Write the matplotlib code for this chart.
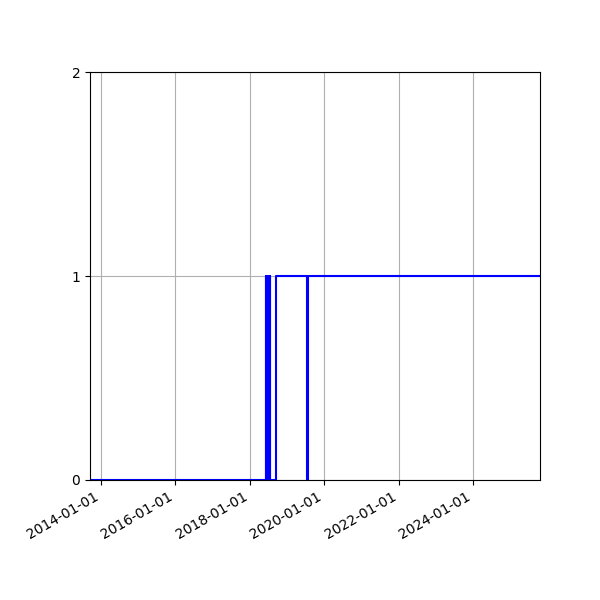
import matplotlib
matplotlib.use("Agg")
import matplotlib.pyplot as plt
import matplotlib.dates as mdates
import numpy as np
import pandas as pd

dates = [
    "2013-09-18",
    "2018-06-06", "2018-06-11", "2018-06-16", "2018-06-21", "2018-06-26",
    "2018-07-01", "2018-07-06", "2018-07-11", "2018-07-16", "2018-07-22",
    "2018-09-14",
    "2019-07-19", "2019-07-29",
    "2025-10-18",
]
values = [
    0,
    1, 0, 1, 0, 1,
    0, 1, 0, 1, 0,
    1,
    0, 1,
    1,
]

x = pd.to_datetime(dates)
y = np.array(values)

fig = plt.figure(figsize=(6, 6), dpi=100)
ax = fig.add_subplot(111)
ax.plot(x, y, drawstyle="steps-post", color="blue", linewidth=1.5)
ax.set_xlim(x[0], x[-1])
ax.set_ylim(0, 2)
ax.set_yticks([0, 1, 2])
ax.xaxis.set_major_locator(mdates.YearLocator(2))
ax.xaxis.set_major_formatter(mdates.DateFormatter("%Y-%m-%d"))
ax.grid(True)
fig.autofmt_xdate()
fig.subplots_adjust(left=0.15, right=0.9, top=0.88, bottom=0.2)
fig.savefig("out.png", dpi=100)
